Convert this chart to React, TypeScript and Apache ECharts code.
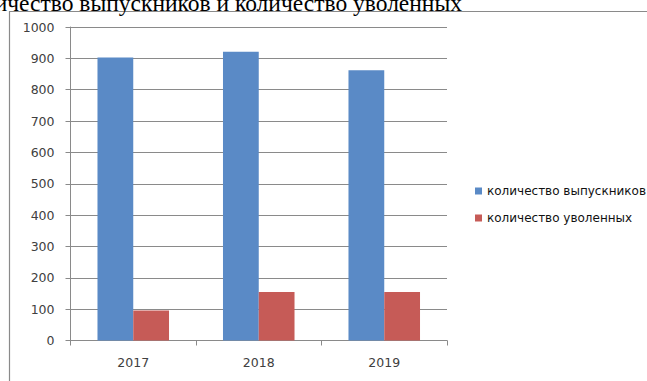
import React, { useEffect, useRef } from "react";
import * as echarts from "echarts";

const categories = ["2017", "2018", "2019"];
const graduates = [903, 921, 862];
const dismissed = [96, 155, 155];
const seriesNames = ["количество выпускников", "количество уволенных"];
const titleText = "Количество выпускников и количество уволенных";

export default function App() {
  const ref = useRef<HTMLDivElement>(null);
  useEffect(() => {
    document.body.style.margin = "0";
    const chart = echarts.init(ref.current!, null, { renderer: "svg" });
    const labelColor = "#404040";
    const font = "'DejaVu Sans', 'Liberation Sans', sans-serif";
    chart.setOption({
      animation: false,
      backgroundColor: "#ffffff",
      grid: { left: 70.5, right: 200, top: 27, bottom: 40.5 },
      legend: {
        orient: "vertical",
        left: 470,
        top: 179,
        itemWidth: 7,
        itemHeight: 7,
        itemGap: 13,
        icon: "rect",
        textStyle: { fontFamily: font, fontSize: 12, color: "#111", lineHeight: 14 },
        data: seriesNames,
      },
      xAxis: {
        type: "category",
        data: categories,
        axisLine: { lineStyle: { color: "#8a8a8a" } },
        axisTick: { show: true, length: 5, lineStyle: { color: "#8a8a8a" } },
        axisLabel: { fontFamily: font, fontSize: 12.5, color: labelColor, margin: 15 },
      },
      yAxis: {
        type: "value",
        min: 0,
        max: 1000,
        interval: 100,
        axisLine: { show: true, lineStyle: { color: "#8a8a8a" } },
        axisTick: { show: true, inside: false, length: 5, lineStyle: { color: "#8a8a8a" } },
        splitLine: { lineStyle: { color: "#8a8a8a" } },
        axisLabel: {
          fontFamily: font,
          fontSize: 12.5,
          color: labelColor,
          margin: 16,
          formatter: (v: number) => String(v),
        },
      },
      series: [
        {
          name: seriesNames[0],
          type: "bar",
          data: graduates,
          barCategoryGap: "43%",
          barGap: "0%",
          itemStyle: { color: "#5A8AC6" },
        },
        {
          name: seriesNames[1],
          type: "bar",
          data: dismissed,
          barCategoryGap: "43%",
          barGap: "0%",
          itemStyle: { color: "#C65B57" },
        },
      ],
      graphic: [
        {
          type: "polyline",
          shape: { points: [[9.5, 390], [9.5, 11.5], [660, 11.5]] },
          style: { fill: "none", stroke: "#8a8a8a", lineWidth: 1.2 },
          silent: true,
        },
        {
          type: "text",
          x: 462,
          y: 15,
          style: {
            text: titleText,
            fontFamily: "'Liberation Serif', 'Times New Roman', serif",
            fontSize: 23.5,
            fill: "#000",
            textAlign: "right",
            textVerticalAlign: "bottom",
          },
        },
      ],
    });
    return () => chart.dispose();
  }, []);
  return <div ref={ref} style={{ width: 647, height: 381 }} />;
}
